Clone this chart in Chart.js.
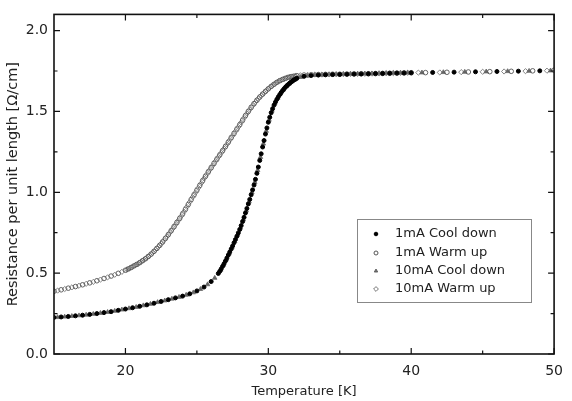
<!DOCTYPE html>
<html>
<head>
<meta charset="utf-8">
<script src="https://cdn.jsdelivr.net/npm/chart.js@4/dist/chart.umd.min.js"></script>
<style>
    html, body { margin: 0; padding: 0; background: #fff; }
</style>
</head>
<body>
<canvas id="myChart" width="572" height="401"></canvas>
<script>
// temperatures [K] and resistance [ohm/cm] for each run
// 1mA cool down
const coolT1 = [15, 15.5, 16, 16.5, 17, 17.5, 18, 18.5, 19, 19.5, 20, 20.5, 21, 21.5, 22, 22.5, 23, 23.5, 24, 24.5, 25, 25.5, 26,
    26.5, 26.6, 26.7, 26.8, 26.9, 27.0, 27.1, 27.2, 27.3, 27.4, 27.5, 27.6, 27.7, 27.8, 27.9, 28.0, 28.1, 28.2, 28.3, 28.4,
    28.5, 28.6, 28.7, 28.8, 28.9, 29.0, 29.1, 29.2, 29.3, 29.4, 29.5, 29.6, 29.7, 29.8, 29.9, 30.0, 30.1, 30.2, 30.3, 30.4,
    30.5, 30.6, 30.7, 30.8, 30.9, 31.0, 31.1, 31.2, 31.3, 31.4, 31.5, 31.6, 31.7, 31.8, 31.9, 32.0,
    32.5, 33, 33.5, 34, 34.5, 35, 35.5, 36, 36.5, 37, 37.5, 38, 38.5, 39, 39.5, 40, 41.5, 43, 44.5, 46, 47.5, 49];
const coolR1 = [0.226, 0.229, 0.232, 0.236, 0.240, 0.245, 0.250, 0.256, 0.262, 0.270, 0.278, 0.286, 0.295, 0.304, 0.314, 0.325, 0.336, 0.347, 0.358, 0.372, 0.390, 0.414, 0.448,
    0.498, 0.511, 0.526, 0.542, 0.558, 0.575, 0.593, 0.612, 0.630, 0.649, 0.668, 0.688, 0.708, 0.728, 0.749, 0.770, 0.794, 0.819, 0.845, 0.872,
    0.900, 0.928, 0.956, 0.985, 1.015, 1.045, 1.080, 1.117, 1.156, 1.197, 1.238, 1.280, 1.320, 1.360, 1.398, 1.433, 1.464, 1.492, 1.517, 1.539,
    1.558, 1.575, 1.590, 1.604, 1.617, 1.629, 1.640, 1.650, 1.659, 1.667, 1.675, 1.682, 1.689, 1.695, 1.700, 1.705,
    1.717, 1.722, 1.725, 1.727, 1.728, 1.729, 1.730, 1.731, 1.732, 1.733, 1.734, 1.735, 1.736, 1.737, 1.738, 1.739, 1.741, 1.743, 1.745, 1.747, 1.749, 1.751];

// 1mA warm up
const warmT1 = [15, 15.5, 16, 16.5, 17, 17.5, 18, 18.5, 19, 19.5,
    20.0, 20.2, 20.4, 20.6, 20.8, 21.0, 21.2, 21.4, 21.6, 21.8, 22.0, 22.2, 22.4, 22.6, 22.8, 23.0, 23.2, 23.4, 23.6, 23.8,
    24.0, 24.2, 24.4, 24.6, 24.8, 25.0, 25.2, 25.4, 25.6, 25.8, 26.0, 26.2, 26.4, 26.6, 26.8, 27.0, 27.2, 27.4, 27.6, 27.8,
    28.0, 28.2, 28.4, 28.6, 28.8, 29.0, 29.2, 29.4, 29.6, 29.8, 30.0, 30.2, 30.4, 30.6, 30.8, 31.0, 31.2, 31.4, 31.6, 31.8, 32.0,
    32.5, 33, 33.5, 34, 34.5, 35, 35.5, 36, 36.5, 37, 37.5, 38, 38.5, 39, 39.5, 40, 41, 42.5, 44, 45.5, 47, 48.5, 50];
const warmR1 = [0.388, 0.397, 0.407, 0.417, 0.428, 0.440, 0.453, 0.467, 0.482, 0.499,
    0.518, 0.526, 0.535, 0.545, 0.554, 0.565, 0.577, 0.589, 0.603, 0.618, 0.635, 0.653, 0.672, 0.693, 0.715, 0.738, 0.762, 0.787, 0.813, 0.839,
    0.866, 0.895, 0.925, 0.955, 0.984, 1.013, 1.042, 1.071, 1.099, 1.126, 1.152, 1.179, 1.205, 1.231, 1.257, 1.283, 1.310, 1.337, 1.364, 1.391,
    1.418, 1.446, 1.474, 1.500, 1.525, 1.548, 1.569, 1.589, 1.607, 1.624, 1.640, 1.655, 1.668, 1.680, 1.690, 1.698, 1.705, 1.711, 1.715, 1.718, 1.721,
    1.725, 1.727, 1.728, 1.729, 1.730, 1.730, 1.731, 1.732, 1.733, 1.733, 1.734, 1.735, 1.736, 1.737, 1.738, 1.739, 1.740, 1.742, 1.744, 1.746, 1.748, 1.751, 1.755];

// 10mA cool down
const coolT10 = [15.25, 15.75, 16.25, 16.75, 17.25, 17.75, 18.25, 18.75, 19.25, 19.75, 20.25, 20.75, 21.25, 21.75, 22.25, 22.75, 23.25, 23.75, 24.25, 24.75, 25.25, 25.75, 26.25,
    26.65, 26.85, 27.05, 27.25, 27.45, 27.65, 27.85, 28.05, 28.25, 28.45, 28.65, 28.85, 29.05, 29.25, 29.45, 29.65, 29.85,
    30.05, 30.25, 30.45, 30.65, 30.85, 31.05, 31.25, 31.45, 31.65, 31.85,
    32.25, 32.75, 33.25, 33.75, 34.25, 34.75, 35.25, 35.75, 36.25, 36.75, 37.25, 37.75, 38.25, 38.75, 39.25, 39.75,
    40.75, 42.25, 43.75, 45.25, 46.75, 48.25, 49.75];
const coolR10 = [0.227, 0.230, 0.234, 0.238, 0.242, 0.247, 0.253, 0.259, 0.266, 0.274, 0.282, 0.290, 0.300, 0.309, 0.320, 0.330, 0.341, 0.352, 0.365, 0.380, 0.401, 0.430, 0.470,
    0.518, 0.550, 0.584, 0.621, 0.658, 0.698, 0.738, 0.782, 0.832, 0.886, 0.942, 1.000, 1.062, 1.136, 1.217, 1.300, 1.379,
    1.448, 1.504, 1.548, 1.582, 1.610, 1.634, 1.655, 1.671, 1.685, 1.697,
    1.712, 1.720, 1.724, 1.726, 1.728, 1.729, 1.730, 1.731, 1.732, 1.733, 1.734, 1.735, 1.736, 1.737, 1.738, 1.739,
    1.740, 1.742, 1.744, 1.746, 1.748, 1.750, 1.752];

// 10mA warm up
const warmT10 = [15.25, 15.75, 16.25, 16.75, 17.25, 17.75, 18.25, 18.75, 19.25, 19.75,
    20.1, 20.3, 20.5, 20.7, 20.9, 21.1, 21.3, 21.5, 21.7, 21.9, 22.1, 22.3, 22.5, 22.7, 22.9, 23.1, 23.3, 23.5, 23.7, 23.9,
    24.1, 24.3, 24.5, 24.7, 24.9, 25.1, 25.3, 25.5, 25.7, 25.9, 26.1, 26.3, 26.5, 26.7, 26.9, 27.1, 27.3, 27.5, 27.7, 27.9,
    28.1, 28.3, 28.5, 28.7, 28.9, 29.1, 29.3, 29.5, 29.7, 29.9, 30.1, 30.3, 30.5, 30.7, 30.9, 31.1, 31.3, 31.5, 31.7, 31.9,
    32.25, 32.75, 33.25, 33.75, 34.25, 34.75, 35.25, 35.75, 36.25, 36.75, 37.25, 37.75, 38.25, 38.75, 39.25, 39.75,
    40.5, 42, 43.5, 45, 46.5, 48, 49.5];
const warmR10 = [0.392, 0.402, 0.412, 0.422, 0.434, 0.446, 0.460, 0.474, 0.490, 0.508,
    0.522, 0.530, 0.540, 0.550, 0.559, 0.571, 0.583, 0.596, 0.610, 0.626, 0.644, 0.662, 0.682, 0.704, 0.726, 0.750, 0.774, 0.800, 0.826, 0.852,
    0.880, 0.910, 0.940, 0.970, 0.998, 1.027, 1.056, 1.085, 1.112, 1.139, 1.165, 1.192, 1.218, 1.244, 1.270, 1.296, 1.323, 1.350, 1.377, 1.404,
    1.432, 1.460, 1.487, 1.512, 1.536, 1.558, 1.579, 1.598, 1.615, 1.632, 1.647, 1.661, 1.674, 1.685, 1.694, 1.701, 1.708, 1.713, 1.716, 1.719,
    1.723, 1.726, 1.728, 1.728, 1.729, 1.730, 1.731, 1.732, 1.732, 1.733, 1.734, 1.735, 1.736, 1.737, 1.738, 1.739,
    1.740, 1.741, 1.743, 1.745, 1.747, 1.749, 1.752];

const seriesLabels = ['1mA Cool down', '1mA Warm up', '10mA Cool down', '10mA Warm up'];

// axis ticks
const xTicks = [20, 30, 40, 50];
const xMinorTicks = [25, 35, 45];
const yTicks = [0, 0.5, 1.0, 1.5, 2.0];
const yMinorTicks = [0.25, 0.75, 1.25, 1.75];

function toPoints(t, r) {
    return t.map((v, i) => ({x: v, y: r[i]}));
}

const FONT = 'DejaVu Sans';

// frame with inward ticks on all four sides + boxed legend
const framePlugin = {
    id: 'frame',
    afterDatasetsDraw(chart) {
        const ctx = chart.ctx;
        const a = chart.chartArea;
        const xs = chart.scales.x, ys = chart.scales.y;
        ctx.save();
        ctx.strokeStyle = '#111';
        ctx.lineWidth = 1.6;
        ctx.strokeRect(a.left, a.top, a.right - a.left, a.bottom - a.top);
        ctx.lineWidth = 1.2;
        ctx.beginPath();
        function xt(v, len) {
            const p = xs.getPixelForValue(v);
            ctx.moveTo(p, a.bottom); ctx.lineTo(p, a.bottom - len);
            ctx.moveTo(p, a.top); ctx.lineTo(p, a.top + len);
        }
        function yt(v, len) {
            const p = ys.getPixelForValue(v);
            ctx.moveTo(a.left, p); ctx.lineTo(a.left + len, p);
            ctx.moveTo(a.right, p); ctx.lineTo(a.right - len, p);
        }
        xTicks.forEach(v => xt(v, 6));
        xMinorTicks.forEach(v => xt(v, 3.5));
        yTicks.forEach(v => yt(v, 6));
        yMinorTicks.forEach(v => yt(v, 3.5));
        ctx.stroke();
        ctx.restore();
    },
    afterDraw(chart) {
        const ctx = chart.ctx;
        ctx.save();
        ctx.fillStyle = '#fff';
        ctx.fillRect(357.5, 219.5, 174, 83);
        ctx.strokeStyle = '#888';
        ctx.lineWidth = 1;
        ctx.strokeRect(357.5, 219.5, 174, 83);
        const rows = [234, 253, 271, 289];
        chart.data.datasets.forEach((ds, i) => {
            ctx.fillStyle = ds.backgroundColor;
            ctx.strokeStyle = ds.borderColor;
            ctx.lineWidth = 1;
            Chart.helpers.drawPoint(ctx, {
                pointStyle: ds.pointStyle,
                radius: ds.legendRadius,
                rotation: 0,
                borderWidth: 1
            }, 376, rows[i]);
            ctx.fillStyle = '#222';
            ctx.font = '13px "' + FONT + '"';
            ctx.textBaseline = 'middle';
            ctx.textAlign = 'left';
            ctx.fillText(ds.label, 395, rows[i]);
        });
        ctx.restore();
    }
};

var ctx = document.getElementById('myChart').getContext('2d');
var myChart = new Chart(ctx, {
    type: 'scatter',
    data: {
        datasets: [{
            label: seriesLabels[0],
            data: toPoints(coolT1, coolR1),
            pointStyle: 'circle',
            pointRadius: 2,
            legendRadius: 1.8,
            backgroundColor: '#000',
            borderColor: '#000',
            borderWidth: 1
        }, {
            label: seriesLabels[1],
            data: toPoints(warmT1, warmR1),
            pointStyle: 'circle',
            pointRadius: 2.3,
            legendRadius: 2,
            backgroundColor: 'rgba(255,255,255,0)',
            borderColor: '#555',
            borderWidth: 0.9
        }, {
            label: seriesLabels[2],
            data: toPoints(coolT10, coolR10),
            pointStyle: 'triangle',
            pointRadius: 2.6,
            legendRadius: 2,
            backgroundColor: '#666',
            borderColor: '#666',
            borderWidth: 0.8
        }, {
            label: seriesLabels[3],
            data: toPoints(warmT10, warmR10),
            pointStyle: 'rectRot',
            pointRadius: 2.6,
            legendRadius: 2.4,
            backgroundColor: 'rgba(255,255,255,0)',
            borderColor: '#777',
            borderWidth: 0.9
        }]
    },
    options: {
        responsive: false,
        devicePixelRatio: 1,
        animation: false,
        layout: { padding: { top: 9, right: 10, left: 0, bottom: 0 } },
        plugins: {
            legend: { display: false },
            tooltip: { enabled: false }
        },
        scales: {
            x: {
                type: 'linear',
                min: 15,
                max: 50,
                afterFit: s => { s.height = 47; },
                afterBuildTicks: s => { s.ticks = xTicks.map(v => ({value: v})); },
                grid: { display: false, drawTicks: false },
                border: { display: false },
                ticks: { color: '#222', font: { family: FONT, size: 14 }, padding: 9, maxRotation: 0 },
                title: {
                    display: true,
                    text: 'Temperature [K]',
                    color: '#222',
                    font: { family: FONT, size: 13 },
                    padding: { top: 0, bottom: 2 }
                }
            },
            y: {
                type: 'linear',
                min: 0,
                max: 2.1,
                afterFit: s => { s.width = 54; },
                afterBuildTicks: s => { s.ticks = yTicks.map(v => ({value: v})); },
                grid: { display: false, drawTicks: false },
                border: { display: false },
                ticks: {
                    color: '#222',
                    font: { family: FONT, size: 14 },
                    padding: 6,
                    callback: v => v.toFixed(1)
                },
                title: {
                    display: true,
                    text: 'Resistance per unit length [Ω/cm]',
                    color: '#222',
                    font: { family: FONT, size: 14.5 },
                    padding: { top: 5, bottom: 0 }
                }
            }
        }
    },
    plugins: [framePlugin]
});
</script>
</body>
</html>
